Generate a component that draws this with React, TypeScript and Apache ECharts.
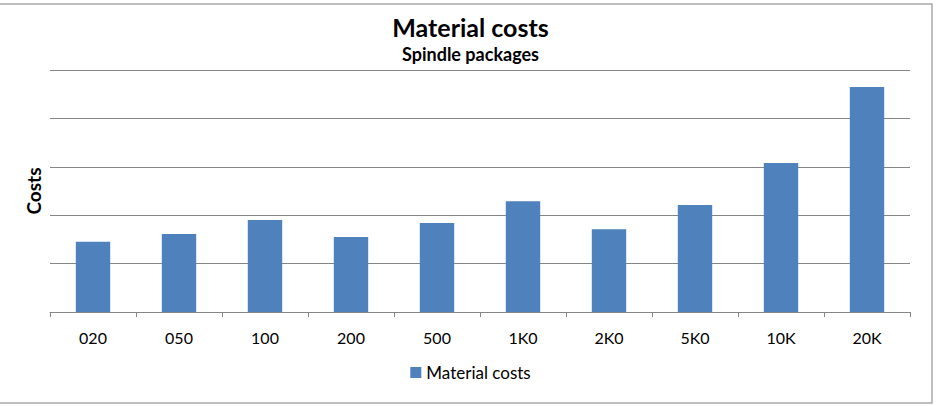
import React, { useEffect, useRef } from "react";
import * as echarts from "echarts";

const categories = ["020", "050", "100", "200", "500", "1K0", "2K0", "5K0", "10K", "20K"];
const materialCosts = [1.45, 1.61, 1.9, 1.55, 1.84, 2.29, 1.71, 2.21, 3.08, 4.65];
const seriesName = "Material costs";

const FONT = "Lato, 'Open Sans', sans-serif";

export default function App() {
  const ref = useRef<HTMLDivElement>(null);

  useEffect(() => {
    if (!ref.current) return;
    const chart = echarts.init(ref.current, null, { renderer: "svg" });
    chart.setOption({
      animation: false,
      backgroundColor: "#ffffff",
      textStyle: { fontFamily: FONT },
      title: {
        text: "Material costs",
        subtext: "Spindle packages",
        left: "center",
        top: 9,
        itemGap: 6,
        textStyle: { fontFamily: FONT, fontSize: 25, fontWeight: "bold", color: "#000" },
        subtextStyle: { fontFamily: FONT, fontSize: 18, fontWeight: "bold", color: "#000" },
      },
      legend: {
        bottom: 20,
        left: "center",
        itemWidth: 11,
        itemHeight: 11,
        icon: "rect",
        itemGap: 6,
        textStyle: { fontFamily: FONT, fontSize: 17, color: "#000" },
        data: [seriesName],
      },
      grid: { left: 50, right: 31, top: 70, bottom: 94, containLabel: false },
      xAxis: {
        type: "category",
        data: categories,
        boundaryGap: true,
        axisLine: { lineStyle: { color: "#868686", width: 1 } },
        axisTick: { show: true, length: 5, lineStyle: { color: "#868686" } },
        axisLabel: { fontFamily: FONT, fontSize: 16, color: "#000", margin: 17 },
      },
      yAxis: {
        type: "value",
        min: 0,
        max: 5,
        interval: 1,
        name: "Costs",
        nameLocation: "middle",
        nameGap: 7,
        nameRotate: 90,
        nameTextStyle: { fontFamily: FONT, fontSize: 19, fontWeight: "bold", color: "#000" },
        axisLabel: { show: false },
        axisLine: { show: false },
        axisTick: { show: false },
        splitLine: { lineStyle: { color: "#868686", width: 1 } },
      },
      series: [
        {
          name: seriesName,
          type: "bar",
          data: materialCosts,
          barWidth: "40%",
          itemStyle: { color: "#4f81bd" },
        },
      ],
      graphic: [
        {
          type: "rect",
          shape: { x: -2, y: 4, width: 934, height: 399 },
          style: { fill: "none", stroke: "#a9a9a9", lineWidth: 1.5 },
          silent: true,
        },
      ],
    });
    return () => chart.dispose();
  }, []);

  return (
    <div
      ref={ref}
      style={{ position: "fixed", left: 0, top: 0, width: 941, height: 406 }}
    />
  );
}
